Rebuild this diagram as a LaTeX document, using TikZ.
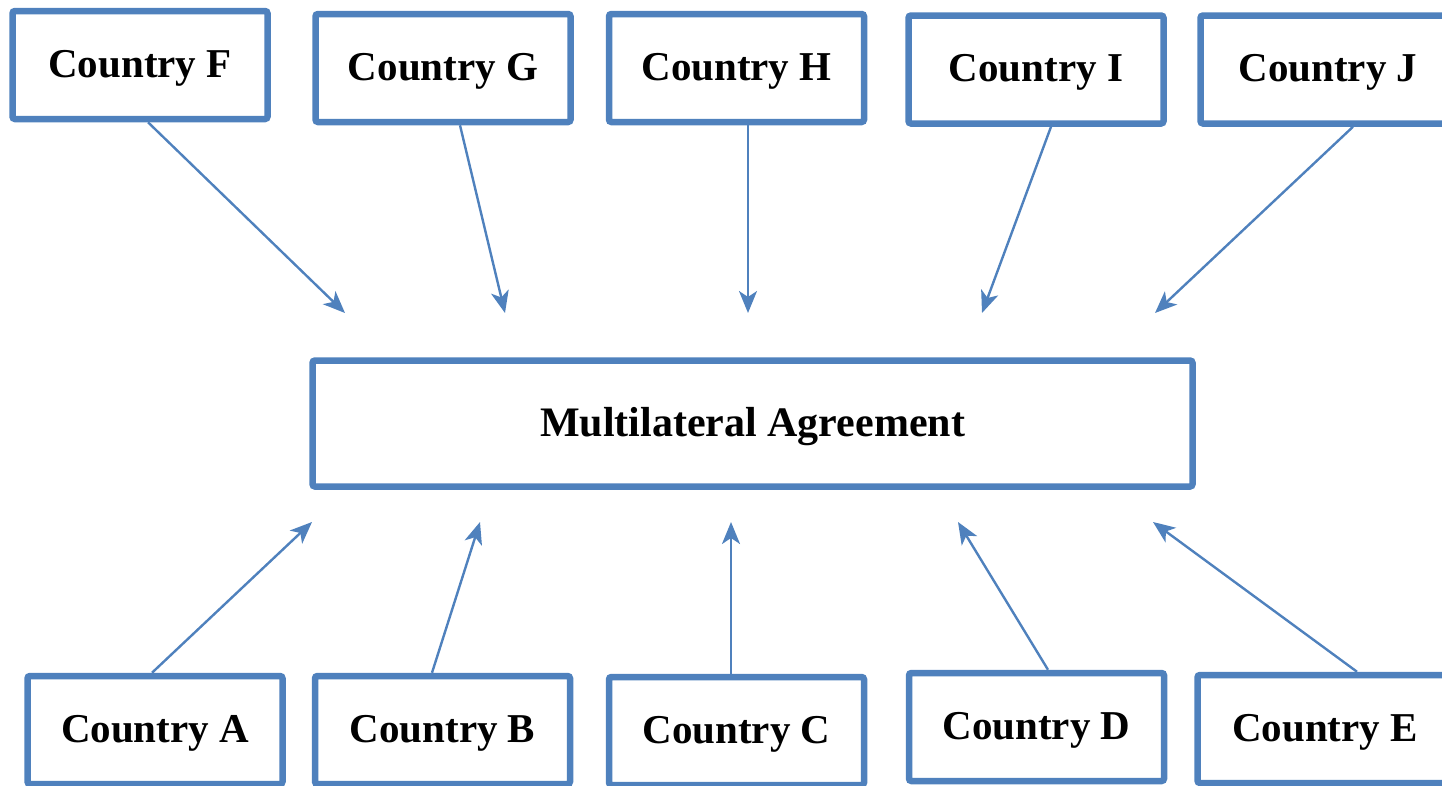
\documentclass[tikz,border=0pt]{standalone}
\usepackage{fontspec}
\setmainfont{Liberation Serif}
\usetikzlibrary{arrows.meta}
\definecolor{boxblue}{HTML}{4F81BD}
\tikzset{
  country/.style={draw=boxblue, line width=6.5pt, rounded corners=2.5pt, fill=white,
    minimum width=255pt, minimum height=108pt, inner sep=0pt, text depth=3pt,
    font=\fontsize{41}{48}\selectfont\bfseries},
  agreement/.style={country, minimum width=880pt, minimum height=126pt,
    font=\fontsize{42}{50}\selectfont\bfseries},
  link/.style={draw=boxblue, line width=2.4pt,
    -{Stealth[length=22pt, width=18pt, inset=6pt]}}
}
\begin{document}
\begin{tikzpicture}[x=1pt, y=-1pt]
  \useasboundingbox (0,0) rectangle (1442,785);

  % upper row of countries
  \node[country] (F) at (140,65)   {Country F};
  \node[country] (G) at (443,68)   {Country G};
  \node[country] (H) at (736.5,68) {Country H};
  \node[country] (I) at (1036,69.5){Country I};
  \node[country] (J) at (1328,69.5){Country J};

  % the agreement in the middle
  \node[agreement] (M) at (752.5,423.5) {Multilateral Agreement};

  % lower row of countries
  \node[country] (A) at (155,730)   {Country A};
  \node[country] (B) at (442.5,730) {Country B};
  \node[country] (C) at (736.5,731) {Country C};
  \node[country] (D) at (1036.5,727){Country D};
  \node[country] (E) at (1325,729)  {Country E};

  % arrow tips, short of the agreement box
  \coordinate (tF) at (345,313);
  \coordinate (tG) at (505,313);
  \coordinate (tH) at (748,313);
  \coordinate (tI) at (982,313);
  \coordinate (tJ) at (1155,313);
  \coordinate (tA) at (312,522);
  \coordinate (tB) at (480,522);
  \coordinate (tC) at (731,522);
  \coordinate (tD) at (958,522);
  \coordinate (tE) at (1153,522);

  \draw[link] ([xshift=8pt]F.south)  -- (tF);
  \draw[link] ([xshift=17pt]G.south) -- (tG);
  \draw[link] ([xshift=11.5pt]H.south) -- (tH);
  \draw[link] ([xshift=15pt]I.south) -- (tI);
  \draw[link] ([xshift=25pt]J.south) -- (tJ);

  \draw[link] ([xshift=-3pt]A.north)    -- (tA);
  \draw[link] ([xshift=-10.5pt]B.north) -- (tB);
  \draw[link] ([xshift=-5.5pt]C.north)  -- (tC);
  \draw[link] ([xshift=11.5pt]D.north)  -- (tD);
  \draw[link] ([xshift=32pt]E.north)    -- (tE);
\end{tikzpicture}
\end{document}
